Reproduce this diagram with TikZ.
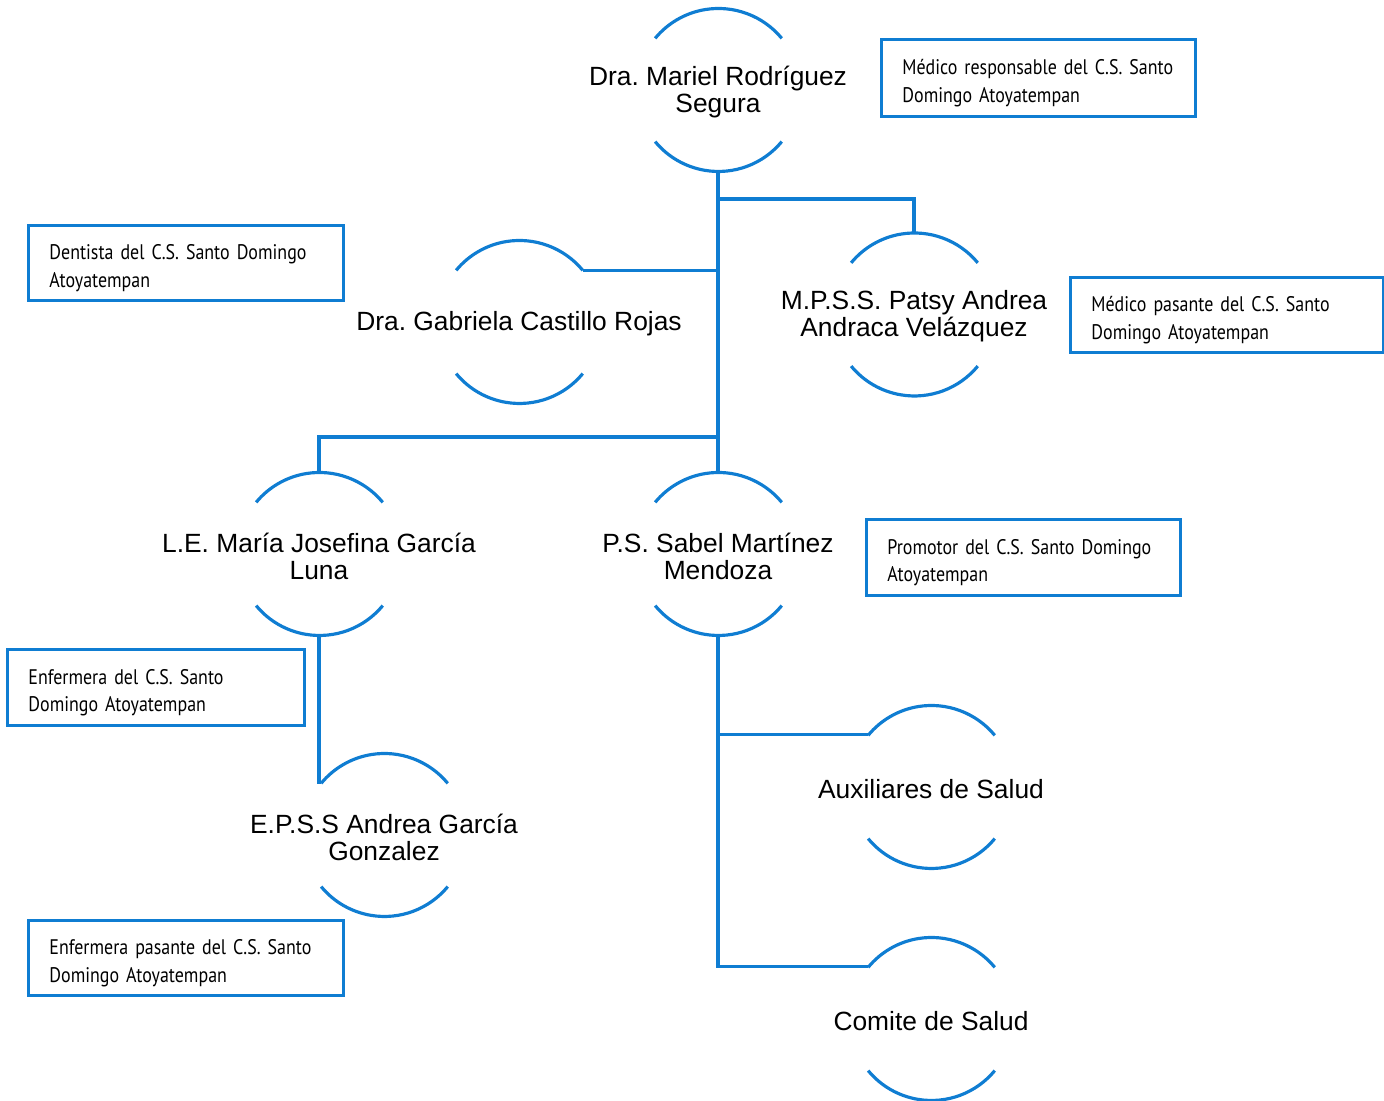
\documentclass[tikz,border=0pt]{standalone}
\usepackage{fontspec}
\setmainfont{Liberation Sans}
\newfontfamily\boxfont[FakeStretch=0.85]{PT Sans}
\definecolor{orgblue}{RGB}{15,125,210}
\tikzset{
  blueline/.style={draw=orgblue, line width=0.9pt},
  pcirc/.style={circle, minimum size=1.64cm, inner sep=0pt, outer sep=0pt},
  ptext/.style={align=center, inner sep=0pt, yshift=-0.02cm, font=\fontsize{7.5}{7.7}\selectfont},
  infobox/.style={draw=orgblue, line width=0.8pt, anchor=south west, align=left,
    inner xsep=0.21cm, inner ysep=0pt, font=\boxfont\fontsize{6.0}{7.9}\selectfont,
    execute at begin node={\rule{0pt}{7.2pt}}},
}
\newcommand\orgarcs[1]{%
  \draw[blueline] (#1.39.5) arc (39.5:140.5:0.82cm);
  \draw[blueline] (#1.-39.5) arc (-39.5:-140.5:0.82cm);}
\begin{document}
\frenchspacing
\begin{tikzpicture}[x=0.01cm,y=0.01cm]
\useasboundingbox (0,0) rectangle (1384,1101);
% person nodes
\node[pcirc] (mar) at (718,1011) {};
\node[pcirc] (gab) at (519,779) {};
\node[pcirc] (pat) at (914,786.5) {};
\node[pcirc] (jos) at (319,547) {};
\node[pcirc] (sab) at (718,547) {};
\node[pcirc] (eps) at (384,266) {};
\node[pcirc] (aux) at (931,314) {};
\node[pcirc] (com) at (931,82) {};
\foreach \n in {mar,gab,pat,jos,sab,eps,aux,com} {\orgarcs{\n}}
\node[ptext] (marT) at (mar) {Dra. Mariel Rodríguez\\Segura};
\node[ptext] (gabT) at (gab) {Dra. Gabriela Castillo Rojas};
\node[ptext] (patT) at (pat) {M.P.S.S. Patsy Andrea\\Andraca Velázquez};
\node[ptext] (josT) at (jos) {L.E. María Josefina García\\Luna};
\node[ptext] (sabT) at (sab) {P.S. Sabel Martínez\\Mendoza};
\node[ptext] (epsT) at (eps) {E.P.S.S Andrea García\\Gonzalez};
\node[ptext] (auxT) at (aux) {Auxiliares de Salud};
\node[ptext] (comT) at (com) {Comite de Salud};
% connectors
\coordinate (j1) at (718,902);
\coordinate (j3) at (718,664);
\draw[blueline] (mar.south) -- (sab.north);
\draw[blueline] (j1) -| (pat.north);
\draw[blueline] (gab.39.5) -- (gab.39.5 -| mar.south);
\draw[blueline] (j3) -| (jos.north);
\draw[blueline] (jos.south) |- (eps.140.5);
\draw[blueline] (sab.south) |- (aux.140.5);
\draw[blueline] (sab.south) |- (com.140.5);
% info boxes
\node[infobox, minimum width=3.14cm, minimum height=0.77cm, text width=2.72cm] (b1) at (880,983)
  {Médico responsable del C.S. Santo\\Domingo Atoyatempan};
\node[infobox, minimum width=3.15cm, minimum height=0.75cm, text width=2.73cm] (b2) at (27,799)
  {Dentista del C.S. Santo Domingo\\Atoyatempan};
\node[infobox, minimum width=3.13cm, minimum height=0.75cm, text width=2.71cm] (b3) at (1069,747)
  {Médico pasante del C.S. Santo\\Domingo Atoyatempan};
\node[infobox, minimum width=3.14cm, minimum height=0.76cm, text width=2.72cm] (b4) at (865,504)
  {Promotor del C.S. Santo Domingo\\Atoyatempan};
\node[infobox, minimum width=2.97cm, minimum height=0.76cm, text width=2.55cm] (b5) at (6,374)
  {Enfermera del C.S. Santo\\Domingo Atoyatempan};
\node[infobox, minimum width=3.15cm, minimum height=0.75cm, text width=2.73cm] (b6) at (27,104)
  {Enfermera pasante del C.S. Santo\\Domingo Atoyatempan};
\end{tikzpicture}
\end{document}
